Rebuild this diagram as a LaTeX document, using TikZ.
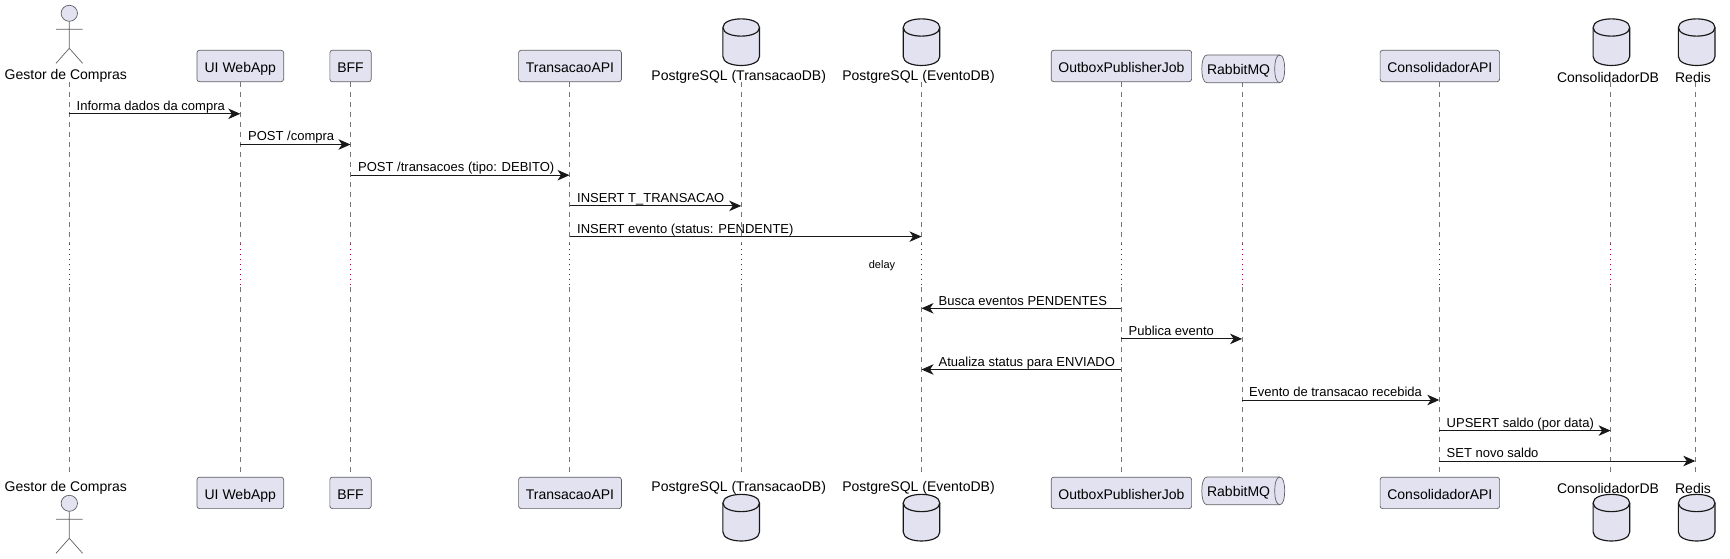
\documentclass[tikz,border=0pt]{standalone}
\usepackage{fontspec}
\setmainfont{Liberation Sans}
\usetikzlibrary{arrows.meta}
\definecolor{partfill}{HTML}{E2E2F0}
\definecolor{partline}{HTML}{5F5F65}
\definecolor{lifeline}{HTML}{777777}
\definecolor{delayred}{HTML}{A80036}
\definecolor{ink}{HTML}{181818}
\tikzset{
  partbox/.style={draw=partline,fill=partfill,line width=0.7pt,rounded corners=2.5pt,minimum height=31.4pt,inner sep=0pt,text=black,text height=14pt,text depth=0.6pt,font=\fontsize{14}{16}\selectfont},
  plainlabel/.style={inner sep=0pt,text=black,font=\fontsize{14}{16}\selectfont},
  anchorpt/.style={inner sep=0pt,minimum size=0pt},
  lifelinestyle/.style={draw=lifeline,line width=0.6pt,dash pattern=on 5pt off 5pt},
  delaystyle/.style={draw=delayred,line width=1pt,dash pattern=on 1.2pt off 3.8pt},
  msg/.style={draw=ink,line width=0.95pt,-{Stealth[length=12pt,width=10.5pt,inset=3.5pt]}},
  msgtext/.style={inner sep=0pt,anchor=base west,text=black,font=\fontsize{13}{15}\selectfont},
  dbshape/.style={draw=ink,fill=partfill,line width=1.15pt},
  actorline/.style={draw=partline,line width=0.7pt},
}
\newcommand{\cyl}[2]{% centre x, top y
  \path[dbshape] (#1-18.3,#2+9) .. controls (#1-18.3,#2-2.5) and (#1+18.3,#2-2.5) .. (#1+18.3,#2+9)
    -- (#1+18.3,#2+38) .. controls (#1+18.3,#2+50) and (#1-18.3,#2+50) .. (#1-18.3,#2+38) -- cycle;
  \path[draw=ink,line width=1.15pt] (#1-18.3,#2+9) .. controls (#1-18.3,#2+20.5) and (#1+18.3,#2+20.5) .. (#1+18.3,#2+9);
}
\newcommand{\stick}[2]{% centre x, head centre y
  \path[actorline,fill=partfill] (#1,#2) ellipse [x radius=8.2,y radius=8];
  \path[actorline] (#1,#2+8) -- (#1,#2+35) (#1-13.3,#2+16) -- (#1+13.3,#2+16)
    (#1-13.3,#2+50) -- (#1,#2+35) -- (#1+13.3,#2+50);
}
\newcommand{\rab}[2]{% left x, top y
  \path[draw=partline,fill=partfill,line width=0.7pt] (#1+5,#2) -- (#1+77.9,#2)
    .. controls (#1+81.5,#2) and (#1+82.9,#2+7) .. (#1+82.9,#2+13.8)
    .. controls (#1+82.9,#2+21) and (#1+81.5,#2+27.7) .. (#1+77.9,#2+27.7)
    -- (#1+5,#2+27.7) .. controls (#1+1.5,#2+27.7) and (#1,#2+21) .. (#1,#2+13.8)
    .. controls (#1,#2+7) and (#1+1.5,#2) .. (#1+5,#2) -- cycle;
  \path[draw=partline,line width=0.7pt] (#1+77.9,#2) .. controls (#1+74.3,#2) and (#1+72.9,#2+7) .. (#1+72.9,#2+13.8)
    .. controls (#1+72.9,#2+21) and (#1+74.3,#2+27.7) .. (#1+77.9,#2+27.7);
}
\begin{document}
\begin{tikzpicture}[x=1pt,y=-1pt]
\useasboundingbox (0,0) rectangle (1730,559);
% lifeline anchors
\foreach \n/\x in {gestor/69.3,ui/240.3,bff/350.5,trans/569.5,pgt/741.2,pge/921.5,outbox/1121.2,rabbit/1242.1,cons/1439.3,cdb/1610.6,redis/1695.3}{
  \node[anchorpt] (\n T) at (\x,82) {};
  \node[anchorpt] (\n B) at (\x,477) {};
}
% lifelines, interrupted by the delay
\coordinate (d1) at (0,244);
\coordinate (d2) at (0,287);
\coordinate (d3) at (0,285);
\foreach \n in {gestor,ui,bff,trans,pgt,pge,outbox,rabbit,cons,cdb,redis}{
  \draw[lifelinestyle] (\n T) -- (\n T |- d1);
  \draw[lifelinestyle] (\n T |- d2) -- (\n B);
  \draw[delaystyle] (\n T |- d1) -- (\n T |- d3);
}
\node[inner sep=0pt,text=black,font=\fontsize{11}{13}\selectfont] (delaytxt) at (882,266) {delay};
% top heads
\stick{69.3}{13.3}
\node[plainlabel] (gestorTL) at (65.8,76.3) {Gestor de Compras};
\node[partbox,minimum width=86.7pt] (uiH) at (240.3,66) {UI WebApp};
\node[partbox,minimum width=41.3pt] (bffH) at (350.5,66) {BFF};
\node[partbox,minimum width=102.8pt] (transH) at (570,66) {TransacaoAPI};
\cyl{741.2}{18.5}
\node[plainlabel] (pgtTL) at (738.7,77) {PostgreSQL (TransacaoDB)};
\cyl{921.5}{18.5}
\node[plainlabel] (pgeTL) at (918.5,77) {PostgreSQL (EventoDB)};
\node[partbox,minimum width=140.4pt] (outboxH) at (1121.4,66) {OutboxPublisherJob};
\rab{1201.8}{55}
\node[inner sep=0pt,text=black,font=\fontsize{14}{16}\selectfont] (rabbitH) at (1238.6,70.5) {RabbitMQ};
\node[partbox,minimum width=119.5pt] (consH) at (1439.85,66) {ConsolidadorAPI};
\cyl{1611.4}{18.5}
\node[plainlabel] (cdbTL) at (1608,77) {ConsolidadorDB};
\cyl{1696.7}{18.5}
\node[plainlabel] (redisTL) at (1693,77) {Redis};
% bottom heads
\stick{69.3}{503.3}
\node[plainlabel] (gestorBL) at (65.8,488.3) {Gestor de Compras};
\node[partbox,minimum width=86.7pt] (uiF) at (240.3,492.9) {UI WebApp};
\node[partbox,minimum width=41.3pt] (bffF) at (350.5,492.9) {BFF};
\node[partbox,minimum width=102.8pt] (transF) at (570,492.9) {TransacaoAPI};
\cyl{741.2}{494}
\node[plainlabel] (pgtBL) at (738.7,488.3) {PostgreSQL (TransacaoDB)};
\cyl{921.5}{494}
\node[plainlabel] (pgeBL) at (918.5,488.3) {PostgreSQL (EventoDB)};
\node[partbox,minimum width=140.4pt] (outboxF) at (1121.4,492.9) {OutboxPublisherJob};
\rab{1201.8}{477}
\node[inner sep=0pt,text=black,font=\fontsize{14}{16}\selectfont] (rabbitF) at (1238.6,492.3) {RabbitMQ};
\node[partbox,minimum width=119.5pt] (consF) at (1439.85,492.9) {ConsolidadorAPI};
\cyl{1611.4}{494}
\node[plainlabel] (cdbBL) at (1608,488.3) {ConsolidadorDB};
\cyl{1696.7}{494}
\node[plainlabel] (redisBL) at (1693,488.3) {Redis};
% messages
\foreach \i/\y in {1/113.8,2/144.5,3/175.2,4/205.9,5/236.6,6/308.3,7/338.9,8/369.5,9/400,10/430.6,11/461}{
  \coordinate (r\i) at (0,\y);
}
\foreach \i/\a/\b in {1/gestor/ui,2/ui/bff,3/bff/trans,4/trans/pgt,5/trans/pge,6/outbox/pge,7/outbox/rabbit,8/outbox/pge,9/rabbit/cons,10/cons/cdb,11/cons/redis}{
  \draw[msg] (\a T |- r\i) -- (\b T |- r\i);
}
\node[msgtext] (t1) at (76.5,110.5) {Informa dados da compra};
\node[msgtext] (t2) at (248,141) {POST /compra};
\node[msgtext] (t3) at (358,171.5) {POST /transacoes (tipo: DEBITO)};
\node[msgtext] (t4) at (577,202.5) {INSERT T\_TRANSACAO};
\node[msgtext] (t5) at (577,233) {INSERT evento (status: PENDENTE)};
\node[msgtext] (t6) at (938.5,305) {Busca eventos PENDENTES};
\node[msgtext] (t7) at (1128.5,335.5) {Publica evento};
\node[msgtext] (t8) at (938.5,366) {Atualiza status para ENVIADO};
\node[msgtext] (t9) at (1249,396.5) {Evento de transacao recebida};
\node[msgtext] (t10) at (1446.5,427) {UPSERT saldo (por data)};
\node[msgtext] (t11) at (1446.5,457.5) {SET novo saldo};
\end{tikzpicture}
\end{document}
